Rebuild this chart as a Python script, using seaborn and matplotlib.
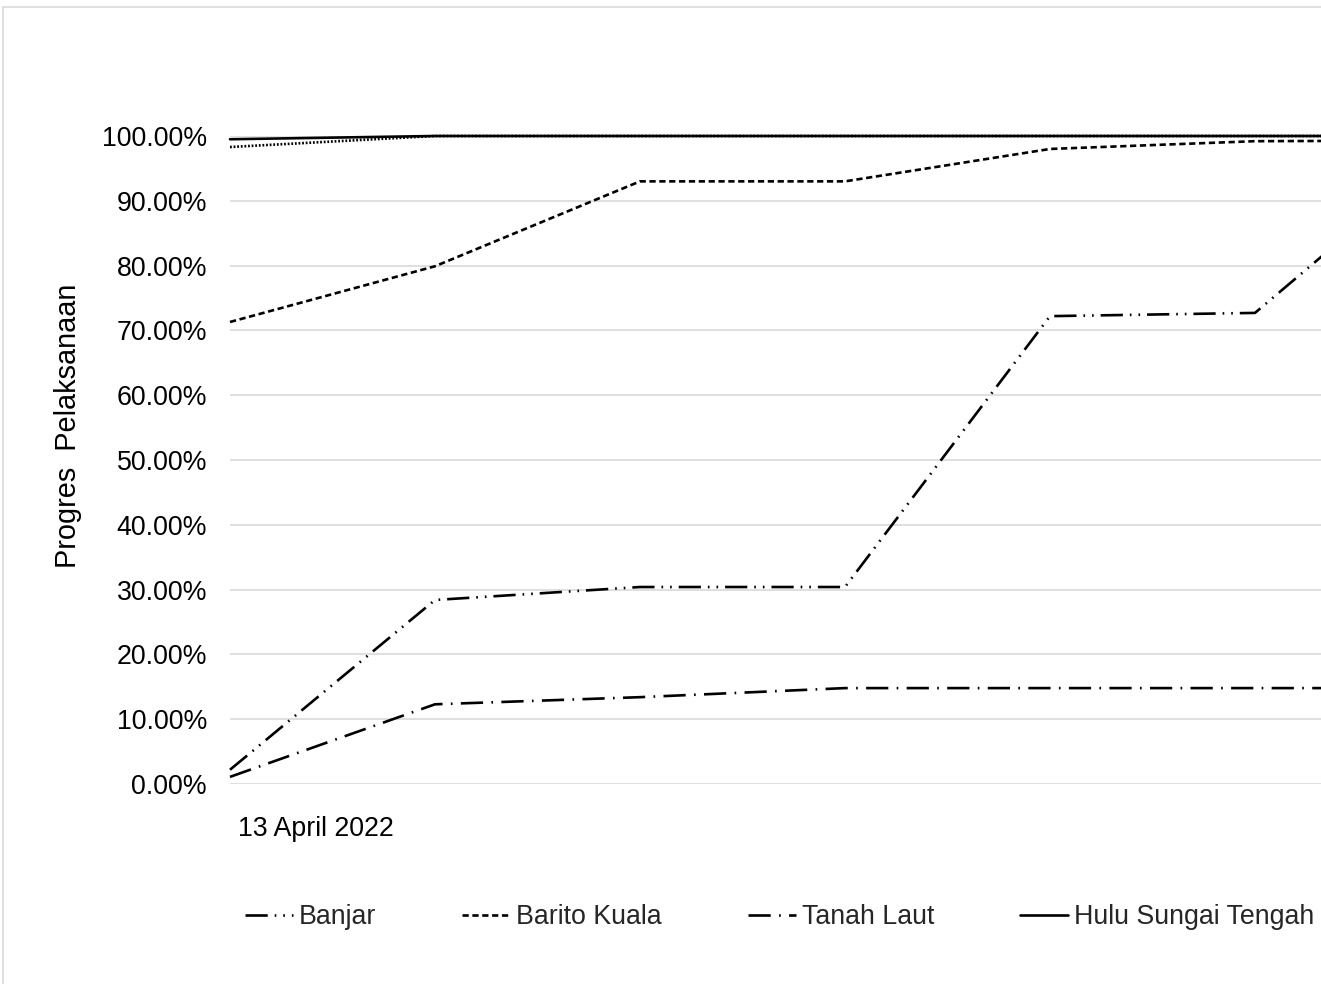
import matplotlib
matplotlib.use("Agg")
import matplotlib.pyplot as plt
import matplotlib.transforms as mtransforms
from matplotlib.patches import Rectangle
from matplotlib.ticker import PercentFormatter
import seaborn as sns
import pandas as pd

# Progress readings per reporting period (fraction of completion)
periods = [0, 1, 2, 3, 4, 5, 6]
first_period_label = "13 April 2022"

banjar = [0.022, 0.284, 0.304, 0.304, 0.722, 0.727, 0.995]
barito_kuala = [0.713, 0.799, 0.930, 0.930, 0.980, 0.992, 0.993]
tanah_laut = [0.011, 0.123, 0.134, 0.148, 0.148, 0.148, 0.148]
hulu_sungai_tengah = [0.995, 1.0, 1.0, 1.0, 1.0, 1.0, 1.0]
other_region = [0.983, 1.0, 1.0, 1.0, 1.0, 1.0, 1.0]

series_names = ["Banjar", "Barito Kuala", "Tanah Laut", "Hulu Sungai Tengah"]

sns.set_theme(style="white")
plt.rcParams["font.family"] = ["Liberation Sans", "DejaVu Sans"]
plt.rcParams["lines.scale_dashes"] = False

W, H = 1321, 984
FS = 19.3
fig = plt.figure(figsize=(W / 100, H / 100), dpi=100)
fig.patch.set_facecolor("white")

# Outer chart frame
fig.add_artist(Rectangle((3 / W, -0.1), 1.2, 1.1 - 7 / H, transform=fig.transFigure,
                         facecolor="none", edgecolor="#d9d9d9", linewidth=1.2))

step = 205.0
left_px, right_px = 230, W
ax = fig.add_axes([left_px / W, 1 - 784 / H, (right_px - left_px) / W, (784 - 136) / H])
ax.set_facecolor("none")

df = pd.DataFrame({
    "period": periods * 5,
    "value": other_region + banjar + barito_kuala + tanah_laut + hulu_sungai_tengah,
    "series": ["_other"] * 7 + [series_names[0]] * 7 + [series_names[1]] * 7
              + [series_names[2]] * 7 + [series_names[3]] * 7,
})

styles = {
    "_other": (0, (1.3, 1.3)),
    "Banjar": (0, (16, 5, 1.2, 5, 1.2, 5)),
    "Barito Kuala": (0, (4.5, 2.6)),
    "Tanah Laut": (0, (16, 6, 1.2, 6)),
    "Hulu Sungai Tengah": "-",
}

for name in ["_other", "Banjar", "Barito Kuala", "Tanah Laut", "Hulu Sungai Tengah"]:
    sub = df[df["series"] == name]
    sns.lineplot(data=sub, x="period", y="value", ax=ax, color="black",
                 linewidth=1.9, linestyle=styles[name],
                 label=None if name.startswith("_") else name,
                 clip_on=False, zorder=3)

ax.set_xlim(0, (right_px - left_px) / step)
ax.set_ylim(0, 1.0)
ax.set_yticks([i / 10 for i in range(11)])
ax.yaxis.set_major_formatter(PercentFormatter(xmax=1, decimals=2))
ax.grid(axis="y", color="#d9d9d9", linewidth=1.2)
ax.grid(axis="x", visible=False)
for s in ax.spines.values():
    s.set_visible(False)

ax.tick_params(axis="y", length=0, pad=16.5, labelsize=FS, labelcolor="black")
ax.set_xticks([0], [first_period_label])
ax.tick_params(axis="x", length=0, pad=23, labelsize=FS, labelcolor="black")
for lbl in ax.get_xticklabels():
    lbl.set_horizontalalignment("left")
    lbl.set_transform(lbl.get_transform() + mtransforms.ScaledTranslation(8 / 100, 0, fig.dpi_scale_trans))

ax.set_xlabel("")
ax.set_ylabel("")
fig.text(68 / W, 1 - 426 / H, "Progres  Pelaksanaan", rotation=90, fontsize=20.8,
         ha="center", va="center", color="black")

if ax.get_legend():
    ax.get_legend().remove()
handles, labels = ax.get_legend_handles_labels()
fig.legend(handles, labels, ncol=4, loc="center left",
           bbox_to_anchor=(245 / W, 1 - 917 / H), frameon=False, fontsize=FS,
           handlelength=1.8, handletextpad=0.22, columnspacing=3.2,
           borderpad=0, borderaxespad=0)

fig.savefig("out.png", dpi=100, facecolor="white")
